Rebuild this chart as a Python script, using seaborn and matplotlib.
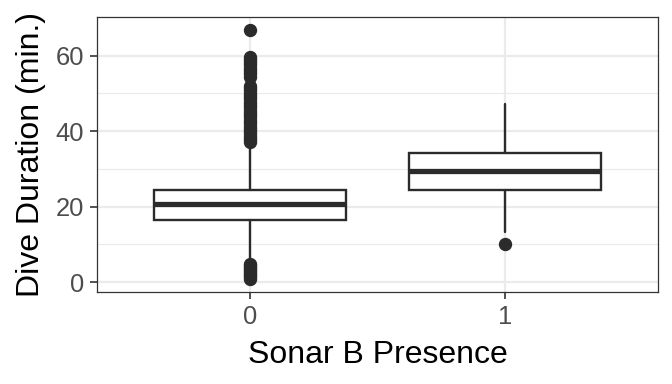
import matplotlib
matplotlib.use("Agg")
import matplotlib.pyplot as plt
import seaborn as sns

# box statistics (minutes)
groups = ["0", "1"]
q1 = [16.5, 24.5]
median = [20.8, 29.4]
q3 = [24.4, 34.3]
whisker_low = [5.3, 13.3]
whisker_high = [36.4, 47.3]

# outliers, group 0 (dense columns above and below the box)
outliers_0 = [
    0.9, 1.3, 1.7, 2.1, 2.5, 2.9, 3.3, 3.7, 4.1, 4.5, 4.9,
    37.0, 37.6, 38.2, 38.8, 39.4, 40.0, 40.6, 41.2, 41.8, 42.4, 43.0,
    43.6, 44.2, 44.8, 45.4, 46.0, 46.6, 47.2, 47.8, 48.4, 49.0, 49.6,
    50.2, 50.8, 51.4, 52.0,
    54.4, 55.0, 55.6, 56.2, 56.8, 57.4, 58.0, 58.6, 59.2, 59.6,
    66.8,
]
# outliers, group 1
outliers_1 = [10.1]
outliers = [outliers_0, outliers_1]

sns.set_theme(style="white")
plt.rcParams["font.family"] = ["Liberation Sans", "DejaVu Sans"]

fig = plt.figure(figsize=(6.72, 3.84), dpi=100)
ax = fig.add_axes([0.1443, 0.2396, 0.8347, 0.7161])

stats = []
for i, g in enumerate(groups):
    stats.append({
        "label": g, "q1": q1[i], "med": median[i], "q3": q3[i],
        "whislo": whisker_low[i], "whishi": whisker_high[i],
        "fliers": outliers[i],
    })

dark = "#2b2b2b"
ax.bxp(
    stats, positions=range(len(groups)), widths=0.75, patch_artist=True,
    showcaps=False,
    boxprops=dict(facecolor="white", edgecolor=dark, linewidth=1.7),
    medianprops=dict(color=dark, linewidth=3.8, solid_capstyle="butt"),
    whiskerprops=dict(color=dark, linewidth=1.7),
    flierprops=dict(marker="o", markerfacecolor=dark, markeredgecolor=dark,
                    markersize=8.6, linestyle="none"),
    zorder=3,
)

ax.set_xlim(-0.6, 1.6)
ax.set_ylim(-2.6, 70.2)
ax.set_yticks([0, 20, 40, 60])
ax.set_yticks([10, 30, 50], minor=True)
ax.set_xticks(range(len(groups)))
ax.set_xticklabels(groups)

ax.grid(True, which="major", color="#ebebeb", linewidth=1.6, zorder=0)
ax.grid(True, which="minor", axis="y", color="#ebebeb", linewidth=0.8, zorder=0)
ax.set_axisbelow(True)
for s in ax.spines.values():
    s.set_color("#333333")
    s.set_linewidth(0.9)

ax.tick_params(axis="both", which="major", length=5, width=1.2, color="#333333",
               labelsize=18.4, labelcolor="#4d4d4d", direction="out",
               bottom=True, left=True, pad=4.5)
ax.tick_params(axis="y", which="minor", length=0)

ax.set_xlabel("Sonar B Presence", fontsize=23, color="black", labelpad=8)
ax.set_ylabel("Dive Duration (min.)", fontsize=23, color="black", labelpad=7)

fig.savefig("out.png", dpi=100)
